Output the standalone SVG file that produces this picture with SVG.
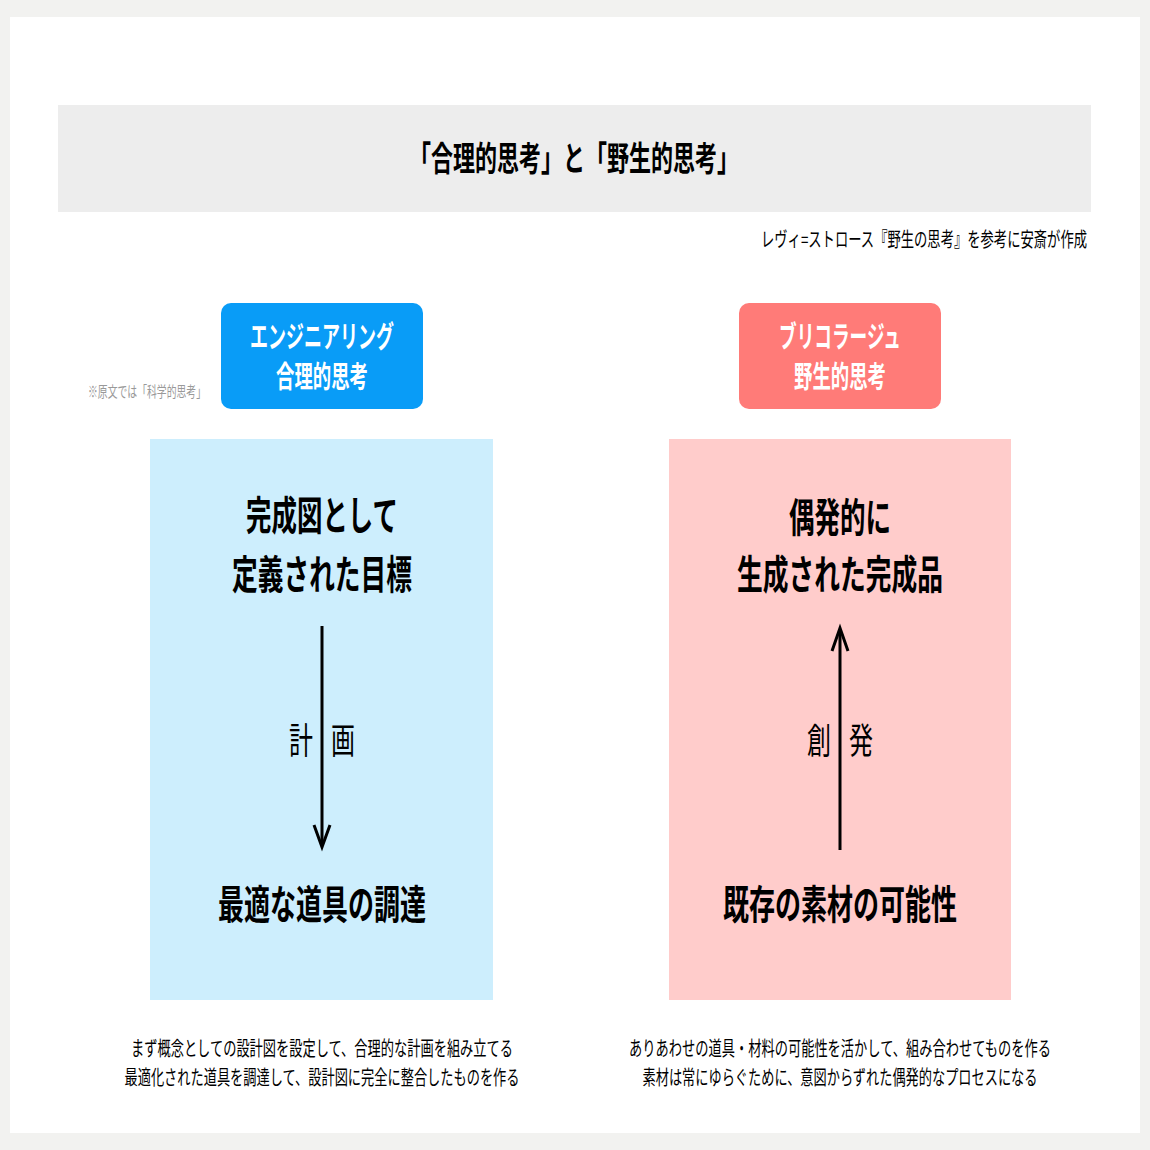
<svg xmlns="http://www.w3.org/2000/svg" width="1150" height="1150" viewBox="0 0 1150 1150">
<style>
text{font-family:"Noto Sans CJK JP","Noto Sans",sans-serif;}
.b{font-weight:700;}
.r{font-weight:400;}
.h{font-size:40px;fill:#000;font-weight:700;}
.lab{font-size:36px;fill:#000;font-weight:400;}
.box{font-size:30px;fill:#fff;font-weight:700;}
.desc{font-size:20px;fill:#000;font-weight:400;}
.arr{stroke:#000;stroke-width:3;fill:none;stroke-linecap:butt;stroke-linejoin:miter;}
</style>
<rect x="0" y="0" width="1150" height="1150" fill="#f2f2f0"/>
<rect x="10" y="17" width="1130" height="1116" fill="#ffffff"/>
<g id="title">
<rect x="58" y="105" width="1033" height="107" fill="#ededed"/>
<text x="574" y="171" class="b" font-size="34" text-anchor="middle" textLength="330" lengthAdjust="spacingAndGlyphs">「合理的思考」と「野生的思考」</text>
</g>
<text id="credit" x="1087" y="247" class="r" font-size="20" text-anchor="end" textLength="326" lengthAdjust="spacingAndGlyphs">レヴィ=ストロース『野生の思考』を参考に安斎が作成</text>
<text id="note" x="88" y="397" class="r" font-size="15" fill="#999" textLength="118" lengthAdjust="spacingAndGlyphs">※原文では「科学的思考」</text>

<g id="node-engineering">
<rect x="221" y="303" width="202" height="106" rx="10" fill="#099cf7"/>
<text x="322" y="347" class="box" text-anchor="middle" textLength="144" lengthAdjust="spacingAndGlyphs">エンジニアリング</text>
<text x="322" y="387" class="box" text-anchor="middle" textLength="92" lengthAdjust="spacingAndGlyphs">合理的思考</text>
</g>
<g id="node-bricolage">
<rect x="739" y="303" width="202" height="106" rx="10" fill="#ff7b78"/>
<text x="840" y="347" class="box" text-anchor="middle" textLength="122" lengthAdjust="spacingAndGlyphs">ブリコラージュ</text>
<text x="840" y="387" class="box" text-anchor="middle" textLength="92" lengthAdjust="spacingAndGlyphs">野生的思考</text>
</g>

<g id="panel-left">
<rect x="150" y="439" width="343" height="561" fill="#cdeefd"/>
<text x="322" y="530" class="h" text-anchor="middle" textLength="152" lengthAdjust="spacingAndGlyphs">完成図として</text>
<text x="322" y="589" class="h" text-anchor="middle" textLength="180" lengthAdjust="spacingAndGlyphs">定義された目標</text>
<text x="322" y="919" class="h" text-anchor="middle" textLength="208" lengthAdjust="spacingAndGlyphs">最適な道具の調達</text>
<text x="301" y="754" class="lab" text-anchor="middle" textLength="24" lengthAdjust="spacingAndGlyphs">計</text>
<text x="343" y="754" class="lab" text-anchor="middle" textLength="24" lengthAdjust="spacingAndGlyphs">画</text>
</g>
<g id="panel-right">
<rect x="669" y="439" width="342" height="561" fill="#ffcccb"/>
<text x="840" y="532" class="h" text-anchor="middle" textLength="102" lengthAdjust="spacingAndGlyphs">偶発的に</text>
<text x="840" y="589" class="h" text-anchor="middle" textLength="206" lengthAdjust="spacingAndGlyphs">生成された完成品</text>
<text x="840" y="919" class="h" text-anchor="middle" textLength="234" lengthAdjust="spacingAndGlyphs">既存の素材の可能性</text>
<text x="819" y="754" class="lab" text-anchor="middle" textLength="24" lengthAdjust="spacingAndGlyphs">創</text>
<text x="861" y="754" class="lab" text-anchor="middle" textLength="24" lengthAdjust="spacingAndGlyphs">発</text>
</g>

<g id="connectors">
<line class="arr" x1="322" y1="626" x2="322" y2="846"/>
<polyline class="arr" points="314,825 322,847 330,825"/>
<line class="arr" x1="840" y1="850" x2="840" y2="629"/>
<polyline class="arr" points="832,651 840,628 848,651"/>
</g>

<g id="desc-left">
<text x="322" y="1056" class="desc" text-anchor="middle" textLength="382" lengthAdjust="spacingAndGlyphs">まず概念としての設計図を設定して、合理的な計画を組み立てる</text>
<text x="322" y="1085" class="desc" text-anchor="middle" textLength="395" lengthAdjust="spacingAndGlyphs">最適化された道具を調達して、設計図に完全に整合したものを作る</text>
</g>
<g id="desc-right">
<text x="840" y="1056" class="desc" text-anchor="middle" textLength="422" lengthAdjust="spacingAndGlyphs">ありあわせの道具・材料の可能性を活かして、組み合わせてものを作る</text>
<text x="840" y="1085" class="desc" text-anchor="middle" textLength="395" lengthAdjust="spacingAndGlyphs">素材は常にゆらぐために、意図からずれた偶発的なプロセスになる</text>
</g>
</svg>
